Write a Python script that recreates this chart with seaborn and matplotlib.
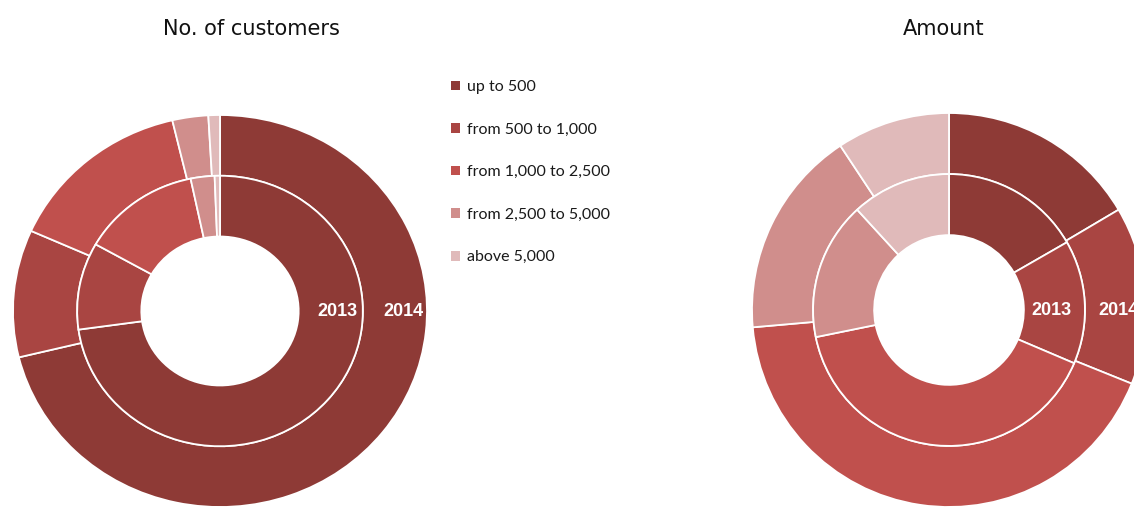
import matplotlib
matplotlib.use("Agg")
import matplotlib.pyplot as plt
from matplotlib.patches import Patch
import seaborn as sns

# ---- data (shares in %) ----
categories = ["up to 500", "from 500 to 1,000", "from 1,000 to 2,500",
              "from 2,500 to 5,000", "above 5,000"]
customers_2013 = [72.8, 10.4, 13.5, 2.7, 0.6]
customers_2014 = [71.2, 10.5, 14.6, 2.8, 0.9]
amount_2013 = [16.7, 14.7, 40.4, 16.4, 11.8]
amount_2014 = [16.5, 14.6, 42.5, 17.1, 9.3]
titles = ["No. of customers", "Amount"]
ring_labels = ["2013", "2014"]

colors = ["#8E3A36", "#A94542", "#C0504D", "#D08E8C", "#E0BABA"]

sns.set_theme(style="white")
plt.rcParams["font.family"] = ["DejaVu Sans"]

W, H = 1134, 511
fig = plt.figure(figsize=(W / 100, H / 100), dpi=100)
fig.patch.set_facecolor("white")


def donut(cx, cy, rx, ry, inner_vals, outer_vals, lab_x):
    ax = fig.add_axes([0, 0, 1, 1])
    ax.patch.set_alpha(0)
    wp = dict(edgecolor="white", linewidth=1.3)
    ax.pie(outer_vals, radius=1.0, colors=colors, startangle=90,
           counterclock=False, wedgeprops=dict(width=0.31, **wp))
    ax.pie(inner_vals, radius=0.69, colors=colors, startangle=90,
           counterclock=False, wedgeprops=dict(width=0.31, **wp))
    ax.set_aspect("auto")
    ax.set_xlim(-cx / rx, (W - cx) / rx)
    ax.set_ylim(-(H - cy) / ry, cy / ry)
    ax.axis("off")
    for lx, lab in zip(lab_x, ring_labels):
        ax.text((lx - cx) / rx, 0, lab, color="white", fontsize=13,
                fontweight="bold", family=["Liberation Sans", "DejaVu Sans"],
                ha="center", va="center")
    return ax


donut(220, 311, 207, 196, customers_2013, customers_2014, [337, 403])
donut(949, 310, 197, 197, amount_2013, amount_2014, [1051, 1118])

fig.text(251 / W, 1 - 29 / H, titles[0], fontsize=15, ha="center",
         va="center", color="#111111")
fig.text(944 / W, 1 - 29 / H, titles[1], fontsize=15, ha="center",
         va="center", color="#111111")

handles = [Patch(facecolor=c, edgecolor="none") for c in colors]
fig.legend(handles, categories, loc="upper left",
           bbox_to_anchor=(451 / W, 1 - 80 / H), frameon=False,
           prop={"family": ["Lato", "DejaVu Sans"], "size": 11.5},
           handlelength=0.55, handleheight=0.55, handletextpad=0.45,
           labelspacing=1.79, labelcolor="#1a1a1a", borderaxespad=0,
           borderpad=0)

fig.savefig("out.png", dpi=100, facecolor="white")
